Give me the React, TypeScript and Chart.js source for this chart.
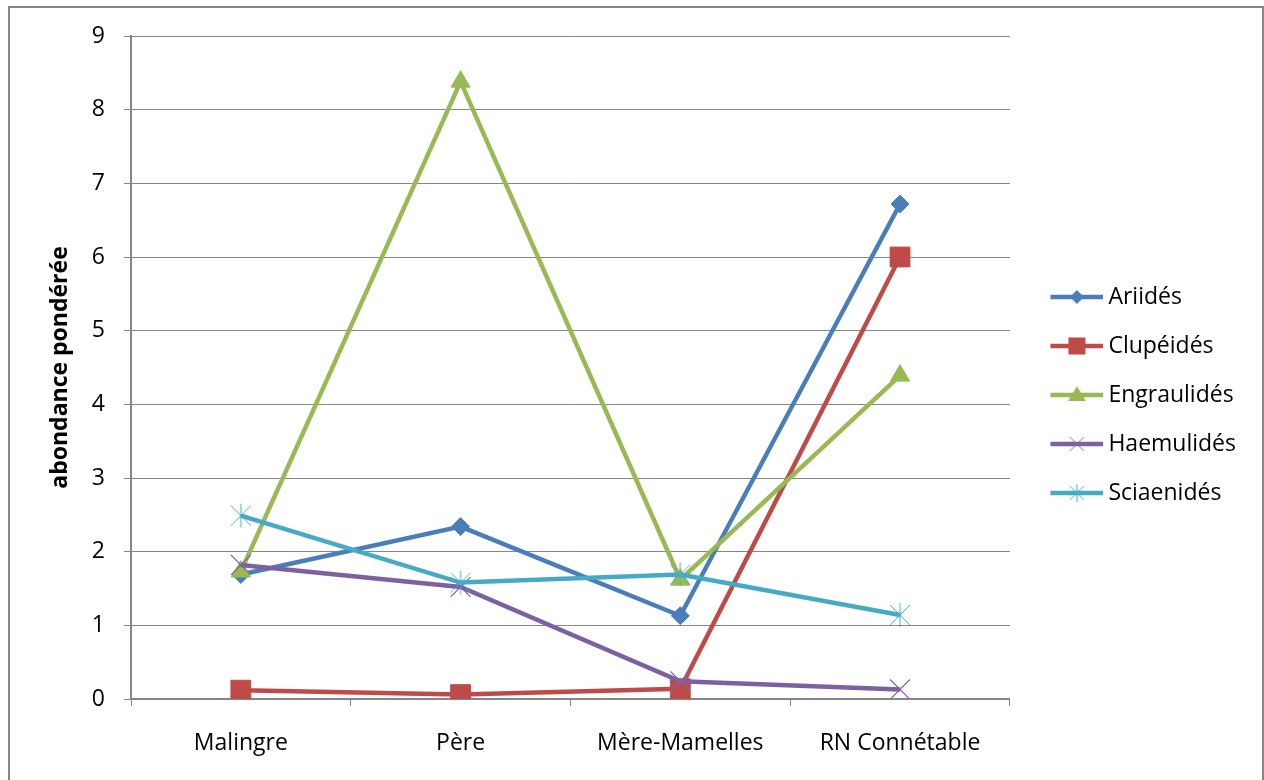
import React, { useEffect, useRef } from "react";
import { Chart, registerables } from "chart.js";

Chart.register(...registerables);

// ---- Data ----
const categories = ["Malingre", "Père", "Mère-Mamelles", "RN Connétable"];
const seriesNames = ["Ariidés", "Clupéidés", "Engraulidés", "Haemulidés", "Sciaenidés"];
const ariides = [1.69, 2.34, 1.13, 6.72];
const clupeides = [0.12, 0.06, 0.14, 6.0];
const engraulides = [1.73, 8.38, 1.62, 4.39];
const haemulides = [1.82, 1.52, 0.24, 0.13];
const sciaenides = [2.49, 1.58, 1.69, 1.14];
const yMin = 0;
const yMax = 9;
const yStep = 1;
const yTitle = "abondance pondérée";

const lineColors = ["#4A7EBB", "#BE4B48", "#98B954", "#7D60A0", "#46AAC5"];
const markerColors = ["#4A7EBB", "#BE4B48", "#98B954", "#8064A2", "#4BACC6"];
const FONT = "'Open Sans', 'DejaVu Sans', sans-serif";

function asteriskCanvas(color: string, half: number, vhalf: number, lw: number) {
  const c = document.createElement("canvas");
  const s = Math.ceil(vhalf * 2 + 4);
  c.width = s;
  c.height = s;
  const ctx = c.getContext("2d")!;
  const m = s / 2;
  ctx.strokeStyle = color;
  ctx.lineWidth = lw;
  ctx.beginPath();
  ctx.moveTo(m - half, m - half);
  ctx.lineTo(m + half, m + half);
  ctx.moveTo(m + half, m - half);
  ctx.lineTo(m - half, m + half);
  ctx.moveTo(m, m - vhalf);
  ctx.lineTo(m, m + vhalf);
  ctx.stroke();
  return c;
}

function legendIcon(idx: number) {
  const c = document.createElement("canvas");
  c.width = 74;
  c.height = 26;
  const ctx = c.getContext("2d")!;
  const y = 13;
  ctx.strokeStyle = lineColors[idx];
  ctx.lineWidth = 4.5;
  ctx.lineCap = "butt";
  ctx.beginPath();
  ctx.moveTo(21, y);
  ctx.lineTo(74, y);
  ctx.stroke();
  const cx = 47.5;
  const col = markerColors[idx];
  ctx.fillStyle = col;
  ctx.strokeStyle = col;
  if (idx === 0) {
    ctx.beginPath();
    ctx.moveTo(cx, y - 7);
    ctx.lineTo(cx + 7, y);
    ctx.lineTo(cx, y + 7);
    ctx.lineTo(cx - 7, y);
    ctx.closePath();
    ctx.fill();
  } else if (idx === 1) {
    ctx.fillRect(cx - 8.5, y - 8.5, 17, 17);
  } else if (idx === 2) {
    ctx.beginPath();
    ctx.moveTo(cx, y - 9);
    ctx.lineTo(cx + 9, y + 6);
    ctx.lineTo(cx - 9, y + 6);
    ctx.closePath();
    ctx.fill();
  } else {
    ctx.lineWidth = 1;
    ctx.beginPath();
    ctx.moveTo(cx - 7, y - 7);
    ctx.lineTo(cx + 7, y + 7);
    ctx.moveTo(cx + 7, y - 7);
    ctx.lineTo(cx - 7, y + 7);
    if (idx === 4) {
      ctx.moveTo(cx, y - 9);
      ctx.lineTo(cx, y + 9);
    }
    ctx.stroke();
  }
  return c;
}

export default function App() {
  const ref = useRef<HTMLCanvasElement | null>(null);

  useEffect(() => {
    if (!ref.current) return;
    const values = [ariides, clupeides, engraulides, haemulides, sciaenides];
    const styles: any[] = ["rectRot", "rect", "triangle", "crossRot", asteriskCanvas(markerColors[4], 10, 12, 1)];
    const radii = [9, 14, 11, 14, 12];
    const borderW = [1, 1, 1, 1.2, 1];
    const icons = seriesNames.map((_, i) => legendIcon(i));

    const datasets = seriesNames.map((name, i) => ({
      label: name,
      data: values[i],
      borderColor: lineColors[i],
      backgroundColor: markerColors[i],
      borderWidth: 4.5,
      tension: 0,
      pointStyle: styles[i],
      pointRadius: radii[i],
      pointBackgroundColor: markerColors[i],
      pointBorderColor: markerColors[i],
      pointBorderWidth: borderW[i],
      order: seriesNames.length - i,
    }));

    const chart = new Chart(ref.current, {
      type: "line",
      data: { labels: categories, datasets },
      options: {
        animation: false,
        responsive: false,
        devicePixelRatio: 1,
        layout: { padding: { top: 2, right: 16, bottom: 0, left: 0 } },
        plugins: {
          tooltip: { enabled: false },
          title: {
            display: true,
            text: "",
            fullSize: false,
            padding: { top: 14, bottom: 0 },
            font: { family: FONT, size: 10, lineHeight: 1.2 },
          },
          legend: {
            position: "right",
            labels: {
              usePointStyle: true,
              pointStyleWidth: 61,
              padding: 26,
              color: "#000",
              font: { family: FONT, size: 23 },
              generateLabels: (ch: any) =>
                ch.data.datasets.map((ds: any, i: number) => ({
                  text: ds.label,
                  pointStyle: icons[i],
                  fillStyle: lineColors[i],
                  strokeStyle: lineColors[i],
                  lineWidth: 0,
                  hidden: false,
                  datasetIndex: i,
                  fontColor: "#000",
                })),
            },
          },
        },
        scales: {
          x: {
            type: "category",
            offset: true,
            afterFit: (s: any) => {
              s.height = 81;
            },
            grid: {
              display: true,
              offset: true,
              drawOnChartArea: false,
              drawTicks: true,
              tickLength: 7,
              color: "#868686",
              lineWidth: 1,
            },
            border: { display: true, color: "#868686", width: 2 },
            ticks: {
              color: "#000",
              padding: 24,
              maxRotation: 0,
              font: { family: FONT, size: 23 },
            },
          },
          y: {
            min: yMin,
            max: yMax,
            afterFit: (s: any) => {
              s.width = 121;
            },
            ticks: {
              stepSize: yStep,
              color: "#000",
              padding: 19,
              font: { family: FONT, size: 23, lineHeight: 0.7 },
            },
            grid: {
              color: "#868686",
              lineWidth: 1,
              tickLength: 7,
              drawTicks: true,
            },
            border: { display: true, color: "#868686", width: 2 },
            title: {
              display: true,
              text: yTitle,
              color: "#000",
              padding: { top: 37, bottom: 0 },
              font: { family: FONT, size: 23, weight: "bold" },
            },
          },
        },
      },
    });
    return () => chart.destroy();
  }, []);

  return (
    <div
      style={{
        position: "absolute",
        left: 8,
        top: 6,
        width: 1252,
        height: 772,
        borderTop: "2px solid #868686",
        borderLeft: "2px solid #868686",
        borderRight: "2px solid #868686",
        background: "#fff",
        overflow: "hidden",
      }}
    >
      <canvas ref={ref} width={1252} height={772} style={{ display: "block", width: 1252, height: 772 }} />
    </div>
  );
}
